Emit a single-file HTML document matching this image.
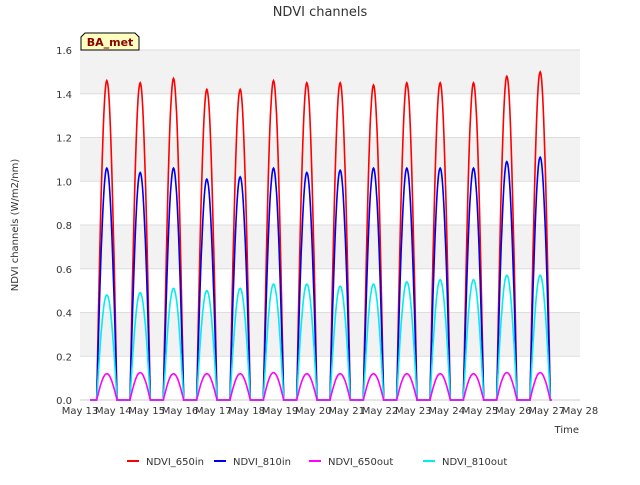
<!DOCTYPE html>
<html><head><meta charset="utf-8"><style>
body{margin:0;background:#fff;font-family:"Liberation Sans","DejaVu Sans",sans-serif}
svg text{font-family:"DejaVu Sans","Liberation Sans",sans-serif}
</style></head><body>
<svg id="c" width="640" height="480" xmlns="http://www.w3.org/2000/svg"></svg>
<script>
const days = ["May 13","May 14","May 15","May 16","May 17","May 18","May 19","May 20","May 21","May 22","May 23","May 24","May 25","May 26","May 27","May 28"];
const peak650in  = [1.46,1.45,1.47,1.42,1.42,1.46,1.45,1.45,1.44,1.45,1.45,1.45,1.48,1.50];
const peak810in  = [1.06,1.04,1.06,1.01,1.02,1.06,1.04,1.05,1.06,1.06,1.06,1.06,1.09,1.11];
const peak650out = [0.12,0.125,0.12,0.12,0.12,0.125,0.12,0.12,0.12,0.12,0.12,0.12,0.125,0.125];
const peak810out = [0.48,0.49,0.51,0.50,0.51,0.53,0.53,0.52,0.53,0.54,0.55,0.55,0.57,0.57];
const yTicks = [0,0.2,0.4,0.6,0.8,1.0,1.2,1.4,1.6];

const NS="http://www.w3.org/2000/svg", svg=document.getElementById('c');
const L=80,R=580,T=50,B=400;
const xs=d=>L+(d/15)*(R-L);
const ys=v=>B-(v/1.6)*(B-T);
function el(t,a,p){const e=document.createElementNS(NS,t);for(const k in a)e.setAttribute(k,a[k]);(p||svg).appendChild(e);return e;}

const bg=el('rect',{x:L,y:T,width:R-L,height:B-T,fill:'#fff'});


for(let i=0;i<8;i++){
  if(i%2===1){const b=el('rect',{x:L,y:ys(yTicks[i+1]),width:R-L,height:ys(yTicks[i])-ys(yTicks[i+1]),fill:'#f2f2f2'});
  
  }
}
yTicks.forEach(v=>{
  const g=el('line',{x1:L,x2:R,y1:ys(v),y2:ys(v),stroke:'#ddd','stroke-width':1});
  
  
  const t=el('text',{x:L-8,y:ys(v)+4,'text-anchor':'end','font-size':10,fill:'#333'});
  t.textContent=v.toFixed(1);
  
  
});
days.forEach((d,i)=>{
  const t=el('text',{x:xs(i),y:414,'text-anchor':'middle','font-size':10,fill:'#333'});
  t.textContent=d;
  
  
});
const ax=el('line',{x1:L,x2:R,y1:B,y2:B,stroke:'#ccc'});



function series(peaks,color,name){
  let pts=[];
  pts.push([xs(0.3),ys(0)]);
  peaks.forEach((p,i)=>{
    const s=i+0.5,e=i+1.11;
    pts.push([xs(s),ys(0)]);
    for(let k=0;k<=40;k++){const t=k/40;const v=p*Math.sin(Math.PI*t);pts.push([xs(s+(e-s)*t),ys(v)]);}
  });
  pts.push([xs(14.15),ys(0)]);
  const pl=el('polyline',{points:pts.map(q=>q[0].toFixed(1)+','+q[1].toFixed(1)).join(' '),fill:'none',stroke:color,'stroke-width':1.6});
  
  
}
series(peak650in,'#ff0000','series-ndvi-650in');
series(peak810in,'#0000ee','series-ndvi-810in');
series(peak810out,'#00eeee','series-ndvi-810out');
series(peak650out,'#ff00ff','series-ndvi-650out');

let t=el('text',{x:320,y:16,'text-anchor':'middle','font-size':13,fill:'#333'});t.textContent='NDVI channels';


t=el('text',{x:18,y:225,'text-anchor':'middle','font-size':10,fill:'#333',transform:'rotate(-90 18 225)'});t.textContent='NDVI channels (W/m2/nm)';


t=el('text',{x:579,y:433,'text-anchor':'end','font-size':10,fill:'#333'});t.textContent='Time';



const badge=el('g',{});


el('path',{d:'M81,50 L81,37 L85,33 L135,33 L139,37 L139,50 Z',fill:'#ffffc0',stroke:'#000','stroke-width':1},badge);
const bt=el('text',{x:110,y:46,'text-anchor':'middle','font-size':11,'font-weight':'bold',fill:'#8b0000'},badge);bt.textContent='BA_met';

const leg=[['NDVI_650in','#ff0000',127],['NDVI_810in','#0000ee',214],['NDVI_650out','#ff00ff',309],['NDVI_810out','#00eeee',423]];
leg.forEach(l=>{
  const g=el('g',{});
  
  
  el('line',{x1:l[2],x2:l[2]+12,y1:461,y2:461,stroke:l[1],'stroke-width':2},g);
  const tx=el('text',{x:l[2]+19,y:465,'font-size':10,fill:'#333'},g);tx.textContent=l[0];
});
</script>
</body></html>
